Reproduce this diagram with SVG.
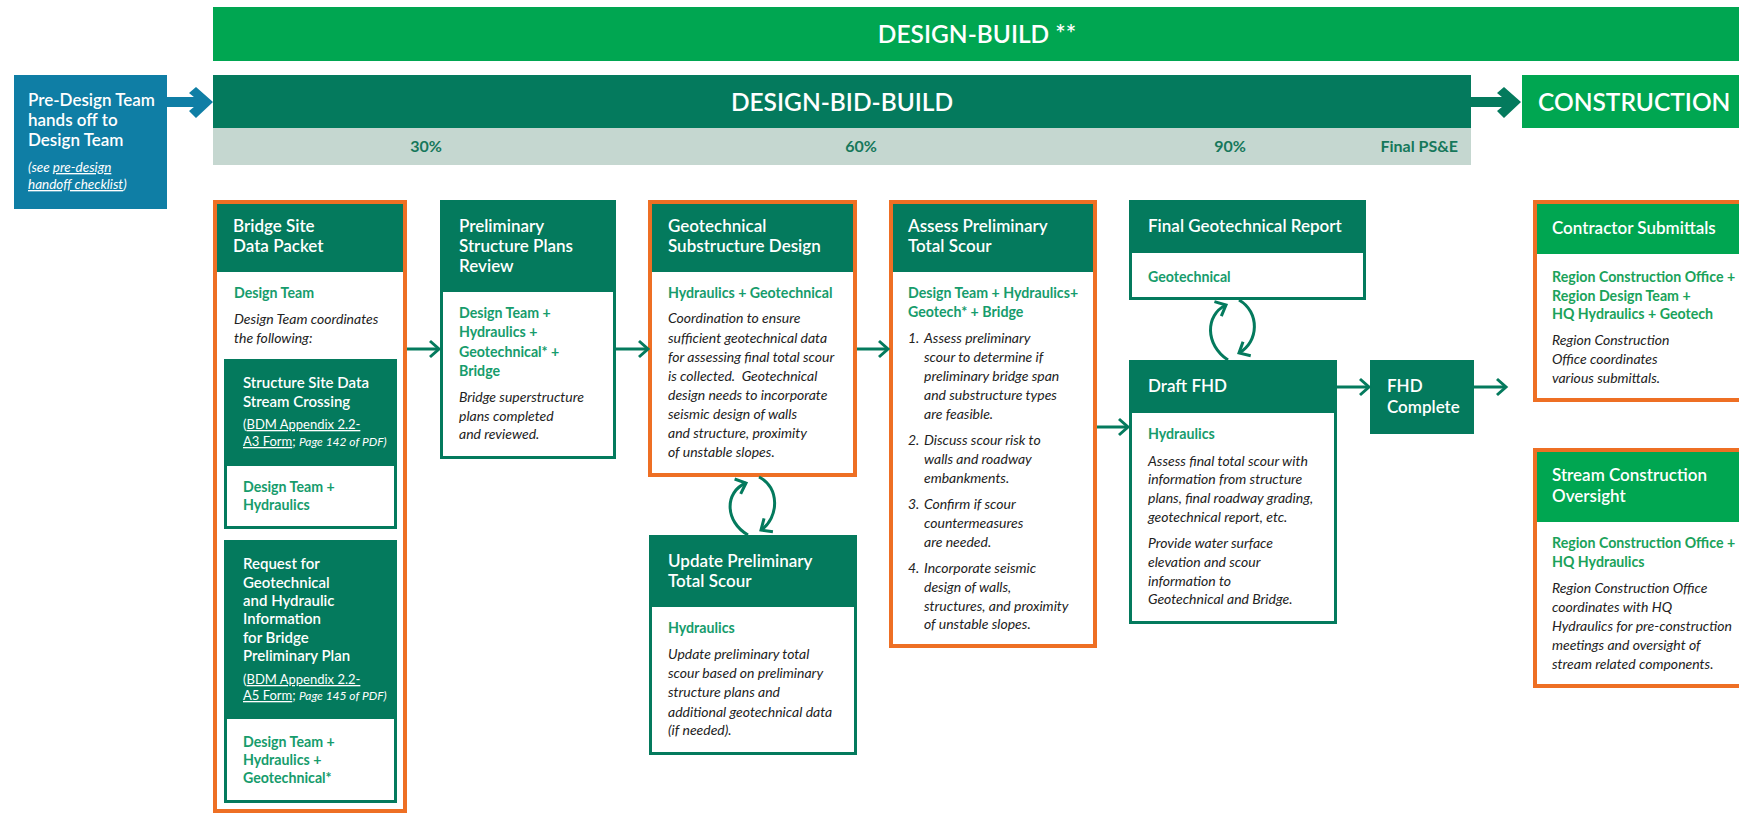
<svg xmlns="http://www.w3.org/2000/svg" width="1739" height="815" viewBox="0 0 1739 815">
<style>
text{font-family:Lato,"Liberation Sans",sans-serif}
.bar{fill:#fff;font-size:24.5px;font-weight:600}
.pct{fill:#16785b;font-size:16px;font-weight:700}
.hd{fill:#fff;font-size:17px;font-weight:600}
.hd2{fill:#fff;font-size:15px;font-weight:600}
.lb{fill:#169c6c;font-size:14.2px;font-weight:700}
.lbc{fill:#1aa25a;font-size:14.2px;font-weight:700}
.it{fill:#222;font-size:14px;font-style:italic}
.ref{fill:#fff;font-size:13px}
.ref .p{font-style:italic;font-size:12px}
.u{text-decoration:underline}
.tealbox{fill:#fff;stroke:#047a5d;stroke-width:3}
.orbox{fill:#fff;stroke:#ee6f24;stroke-width:4}
.tealfill{fill:#047a5d}
.grnfill{fill:#00a651}
.conn{fill:none;stroke:#047a5d;stroke-width:3;marker-end:url(#ah)}
</style>
<defs>
<marker id="ah" markerUnits="userSpaceOnUse" markerWidth="16" markerHeight="22" refX="12" refY="11" orient="auto">
<path d="M3,3 L12,11 L3,19" fill="none" stroke="#047a5d" stroke-width="3"/>
</marker>
</defs>
<rect width="1739" height="815" fill="#fff"/>

<g id="design-build">
<rect x="213" y="7" width="1526" height="54" class="grnfill"/>
<text x="977" y="43" class="bar" text-anchor="middle">DESIGN-BUILD **</text>
</g>
<g id="design-bid-build">
<rect x="213" y="75" width="1258" height="53" class="tealfill"/>
<text x="842" y="111" class="bar" text-anchor="middle">DESIGN-BID-BUILD</text>
<rect x="213" y="128" width="1258" height="37" fill="#c5d7d0"/>
<text x="426" y="152" class="pct" text-anchor="middle">30%</text>
<text x="861" y="152" class="pct" text-anchor="middle">60%</text>
<text x="1230" y="152" class="pct" text-anchor="middle">90%</text>
<text x="1458" y="152" class="pct" text-anchor="end">Final PS&amp;E</text>
</g>
<g id="construction">
<rect x="1522" y="75" width="217" height="53" class="grnfill"/>
<text x="1538" y="111" class="bar">CONSTRUCTION</text>
</g>
<g id="pre-design">
<rect x="14" y="75" width="153" height="134" fill="#0f7ea5"/>
<text class="hd" font-size="16.5" x="28" y="106">Pre-Design Team</text>
<text class="hd" font-size="16.5" x="28" y="126">hands off to</text>
<text class="hd" font-size="16.5" x="28" y="146">Design Team</text>
<text x="28" y="172" fill="#fff" font-size="13.5" font-style="italic">(see <tspan class="u">pre-design</tspan></text>
<text x="28" y="189" fill="#fff" font-size="13.5" font-style="italic"><tspan class="u">handoff checklist</tspan>)</text>
</g>

<g id="bridge-site-data-packet">
<rect x="215" y="202" width="190" height="609" class="orbox"/>
<rect x="217" y="204" width="186" height="68" class="tealfill"/>
<text class="hd" x="233" y="232">Bridge Site</text>
<text class="hd" x="233" y="252">Data Packet</text>
<text class="lb" x="234" y="298">Design Team</text>
<text class="it" x="234" y="324">Design Team coordinates</text>
<text class="it" x="234" y="343">the following:</text>
<rect x="225.5" y="360.5" width="170" height="167" class="tealbox"/>
<rect x="224" y="359" width="173" height="107" class="tealfill"/>
<text class="hd2" x="243" y="388">Structure Site Data</text>
<text class="hd2" x="243" y="407">Stream Crossing</text>
<text class="ref" x="243" y="429">(<tspan class="u">BDM Appendix 2.2-</tspan></text>
<text class="ref" x="243" y="446"><tspan class="u">A3 Form</tspan>; <tspan class="p">Page 142 of PDF)</tspan></text>
<text class="lb" x="243" y="492">Design Team +</text>
<text class="lb" x="243" y="510">Hydraulics</text>
<rect x="225.5" y="541.5" width="170" height="260" class="tealbox"/>
<rect x="224" y="540" width="173" height="179" class="tealfill"/>
<text class="hd2" x="243" y="569">Request for</text>
<text class="hd2" x="243" y="588">Geotechnical</text>
<text class="hd2" x="243" y="606">and Hydraulic</text>
<text class="hd2" x="243" y="624">Information</text>
<text class="hd2" x="243" y="643">for Bridge</text>
<text class="hd2" x="243" y="661">Preliminary Plan</text>
<text class="ref" x="243" y="684">(<tspan class="u">BDM Appendix 2.2-</tspan></text>
<text class="ref" x="243" y="700"><tspan class="u">A5 Form</tspan>; <tspan class="p">Page 145 of PDF)</tspan></text>
<text class="lb" x="243" y="747">Design Team +</text>
<text class="lb" x="243" y="765">Hydraulics +</text>
<text class="lb" x="243" y="783">Geotechnical*</text>
</g>

<g id="preliminary-structure-plans-review">
<rect x="441.5" y="201.5" width="173" height="256" class="tealbox"/>
<rect x="440" y="200" width="176" height="92" class="tealfill"/>
<text class="hd" x="459" y="232">Preliminary</text>
<text class="hd" x="459" y="252">Structure Plans</text>
<text class="hd" x="459" y="272">Review</text>
<text class="lb" x="459" y="318">Design Team +</text>
<text class="lb" x="459" y="337">Hydraulics +</text>
<text class="lb" x="459" y="357">Geotechnical* +</text>
<text class="lb" x="459" y="376">Bridge</text>
<text class="it" x="459" y="402">Bridge superstructure</text>
<text class="it" x="459" y="421">plans completed</text>
<text class="it" x="459" y="439">and reviewed.</text>
</g>

<g id="geotechnical-substructure-design">
<rect x="650" y="202" width="205" height="273" class="orbox"/>
<rect x="652" y="204" width="201" height="68" class="tealfill"/>
<text class="hd" x="668" y="232">Geotechnical</text>
<text class="hd" x="668" y="252">Substructure Design</text>
<text class="lb" x="668" y="298">Hydraulics + Geotechnical</text>
<text class="it" x="668" y="323">Coordination to ensure</text>
<text class="it" x="668" y="343">sufficient geotechnical data</text>
<text class="it" x="668" y="362">for assessing final total scour</text>
<text class="it" x="668" y="381" xml:space="preserve">is collected.  Geotechnical</text>
<text class="it" x="668" y="400">design needs to incorporate</text>
<text class="it" x="668" y="419">seismic design of walls</text>
<text class="it" x="668" y="438">and structure, proximity</text>
<text class="it" x="668" y="457">of unstable slopes.</text>
</g>

<g id="update-preliminary-total-scour">
<rect x="650.5" y="536.5" width="205" height="217" class="tealbox"/>
<rect x="649" y="535" width="208" height="72" class="tealfill"/>
<text class="hd" x="668" y="567">Update Preliminary</text>
<text class="hd" x="668" y="587">Total Scour</text>
<text class="lb" x="668" y="633">Hydraulics</text>
<text class="it" x="668" y="659">Update preliminary total</text>
<text class="it" x="668" y="678">scour based on preliminary</text>
<text class="it" x="668" y="697">structure plans and</text>
<text class="it" x="668" y="717">additional geotechnical data</text>
<text class="it" x="668" y="735">(if needed).</text>
</g>

<g id="assess-preliminary-total-scour">
<rect x="891" y="202" width="204" height="444" class="orbox"/>
<rect x="893" y="204" width="200" height="68" class="tealfill"/>
<text class="hd" x="908" y="232">Assess Preliminary</text>
<text class="hd" x="908" y="252">Total Scour</text>
<text class="lb" x="908" y="298">Design Team + Hydraulics+</text>
<text class="lb" x="908" y="317">Geotech* + Bridge</text>
<text class="it" x="908" y="343">1.</text>
<text class="it" x="924" y="343">Assess preliminary</text>
<text class="it" x="924" y="362">scour to determine if</text>
<text class="it" x="924" y="381">preliminary bridge span</text>
<text class="it" x="924" y="400">and substructure types</text>
<text class="it" x="924" y="419">are feasible.</text>
<text class="it" x="908" y="445">2.</text>
<text class="it" x="924" y="445">Discuss scour risk to</text>
<text class="it" x="924" y="464">walls and roadway</text>
<text class="it" x="924" y="483">embankments.</text>
<text class="it" x="908" y="509">3.</text>
<text class="it" x="924" y="509">Confirm if scour</text>
<text class="it" x="924" y="528">countermeasures</text>
<text class="it" x="924" y="547">are needed.</text>
<text class="it" x="908" y="573">4.</text>
<text class="it" x="924" y="573">Incorporate seismic</text>
<text class="it" x="924" y="592">design of walls,</text>
<text class="it" x="924" y="611">structures, and proximity</text>
<text class="it" x="924" y="629">of unstable slopes.</text>
</g>

<g id="final-geotechnical-report">
<rect x="1130.5" y="201.5" width="234" height="97" class="tealbox"/>
<rect x="1129" y="200" width="237" height="53" class="tealfill"/>
<text class="hd" x="1148" y="232">Final Geotechnical Report</text>
<text class="lb" x="1148" y="282">Geotechnical</text>
</g>

<g id="draft-fhd">
<rect x="1130.5" y="361.5" width="205" height="261" class="tealbox"/>
<rect x="1129" y="360" width="208" height="53" class="tealfill"/>
<text class="hd" x="1148" y="392">Draft FHD</text>
<text class="lb" x="1148" y="439">Hydraulics</text>
<text class="it" x="1148" y="466">Assess final total scour with</text>
<text class="it" x="1148" y="484">information from structure</text>
<text class="it" x="1148" y="503">plans, final roadway grading,</text>
<text class="it" x="1148" y="522">geotechnical report, etc.</text>
<text class="it" x="1148" y="548">Provide water surface</text>
<text class="it" x="1148" y="567">elevation and scour</text>
<text class="it" x="1148" y="586">information to</text>
<text class="it" x="1148" y="604">Geotechnical and Bridge.</text>
</g>

<g id="fhd-complete">
<rect x="1370" y="360" width="104" height="74" class="tealfill"/>
<text class="hd" x="1387" y="392">FHD</text>
<text class="hd" x="1387" y="413">Complete</text>
</g>

<g id="contractor-submittals">
<rect x="1535" y="202" width="210" height="198" class="orbox"/>
<rect x="1537" y="204" width="210" height="50" class="grnfill"/>
<text class="hd" x="1552" y="234">Contractor Submittals</text>
<text class="lbc" x="1552" y="282">Region Construction Office +</text>
<text class="lbc" x="1552" y="301">Region Design Team +</text>
<text class="lbc" x="1552" y="319">HQ Hydraulics + Geotech</text>
<text class="it" x="1552" y="345">Region Construction</text>
<text class="it" x="1552" y="364">Office coordinates</text>
<text class="it" x="1552" y="383">various submittals.</text>
</g>

<g id="stream-construction-oversight">
<rect x="1535" y="450" width="210" height="236" class="orbox"/>
<rect x="1537" y="452" width="210" height="70" class="grnfill"/>
<text class="hd" x="1552" y="481">Stream Construction</text>
<text class="hd" x="1552" y="502">Oversight</text>
<text class="lbc" x="1552" y="548">Region Construction Office +</text>
<text class="lbc" x="1552" y="567">HQ Hydraulics</text>
<text class="it" x="1552" y="593">Region Construction Office</text>
<text class="it" x="1552" y="612">coordinates with HQ</text>
<text class="it" x="1552" y="631">Hydraulics for pre-construction</text>
<text class="it" x="1552" y="650">meetings and oversight of</text>
<text class="it" x="1552" y="669">stream related components.</text>
</g>

<g id="connectors">
<path d="M167,102 H202" stroke="#0f7ea5" stroke-width="10" fill="none"/>
<polygon points="196,87 213,102 196,118 189,111 200,102 189,93" fill="#0f7ea5"/>
<path d="M1471,102 H1510" stroke="#047a5d" stroke-width="10" fill="none"/>
<polygon points="1504,87 1521,102 1504,118 1497,111 1508,102 1497,93" fill="#047a5d"/>
<path class="conn" d="M407,349 H439"/>
<path class="conn" d="M616,349 H648"/>
<path class="conn" d="M857,349 H888"/>
<path class="conn" d="M1097,427 H1128"/>
<path class="conn" d="M1337,387 H1369"/>
<path class="conn" d="M1474,387 H1506"/>
<path class="conn" d="M748,535 C725,522 724,492 746,483"/>
<path class="conn" d="M759,477 C780,487 779,518 761,530"/>
<path class="conn" d="M1228,360 C1205,345 1205,315 1226,305"/>
<path class="conn" d="M1239,300 C1260,312 1259,342 1239,353"/>
</g>
</svg>
